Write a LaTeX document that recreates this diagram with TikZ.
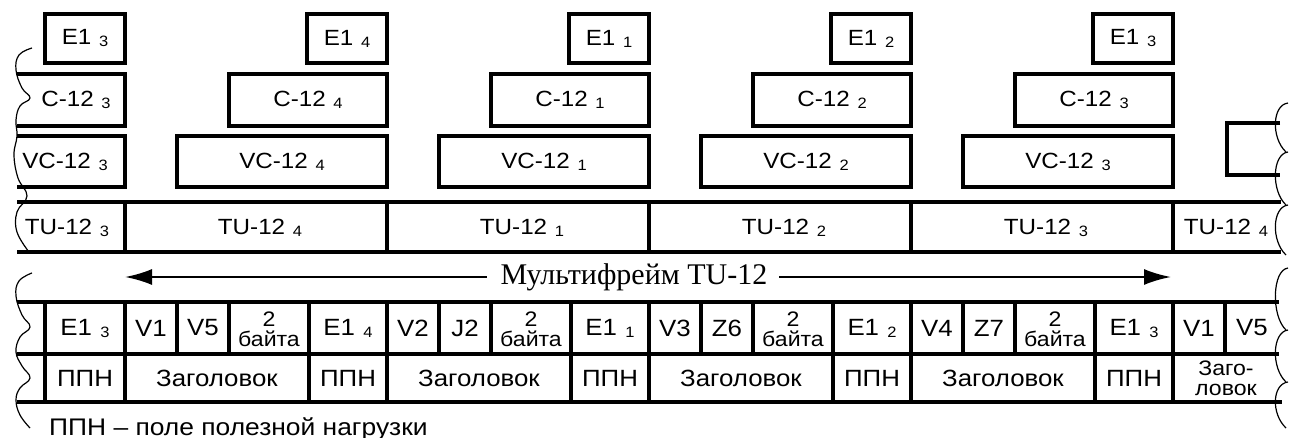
\documentclass[tikz,border=0pt]{standalone}
\usepackage{fontspec}
\setmainfont{Liberation Sans}[FakeStretch=1.1]
\newfontfamily\seriffont{Liberation Serif}
\usetikzlibrary{arrows.meta}
\newcommand{\ix}[1]{\hspace{0.35em}{\fontsize{15pt}{15pt}\selectfont\raisebox{-2pt}{#1}}}
\begin{document}
\begin{tikzpicture}[x=1pt,y=-1pt,
  box/.style={draw, line width=4pt, inner sep=0pt, font=\fontsize{22pt}{22pt}\selectfont},
  lbl/.style={inner sep=0pt, font=\fontsize{22pt}{22pt}\selectfont},
  cell/.style={inner sep=0pt, font=\fontsize{23.5pt}{23.5pt}\selectfont},
  small/.style={inner sep=0pt, align=center, font=\fontsize{21pt}{21pt}\selectfont},
  hl/.style={line width=3.8pt},
  vl/.style={line width=3.3pt},
  wavy/.style={line width=1.2pt},
  arr/.style={line width=2.4pt, -{Latex[length=27pt,width=16pt]}}
]
\useasboundingbox (0,0) rectangle (1289,438);

% ---- E1 row
\foreach \n/\x/\s in {e13a/85/3, e14/347/4, e11/609/1, e12/871/2, e13b/1133/3}
  \node[box, minimum width=80pt, minimum height=49pt] (\n) at (\x,38.5) {E1\ix{\s}};

% ---- C-12 row
\draw[line width=4pt] (17,74) -- (125,74) -- (125,126) -- (17,126);
\node[lbl] (c13a) at (76,100) {C-12\ix{3}};
\foreach \n/\x/\s in {c14/308/4, c11/570/1, c12/832/2, c13b/1094/3}
  \node[box, minimum width=158pt, minimum height=52pt] (\n) at (\x,100) {C-12\ix{\s}};

% ---- VC-12 row
\draw[line width=4pt] (17,136) -- (125,136) -- (125,187) -- (17,187);
\node[lbl] (vc13a) at (65,161.5) {VC-12\ix{3}};
\foreach \n/\x/\s in {vc14/282/4, vc11/544/1, vc12/806/2, vc13b/1068/3}
  \node[box, minimum width=210pt, minimum height=51pt] (\n) at (\x,161.5) {VC-12\ix{\s}};
\draw[line width=4pt] (1280,123) -- (1227,123) -- (1227,175) -- (1280,175);

% ---- TU-12 row
\draw[hl] (17,202) -- (1281,202);
\draw[hl] (17,252) -- (1281,252);
\foreach \x in {125,387,649,911,1173} \draw[vl] (\x,202) -- (\x,252);
\foreach \n/\x/\s in {tu3a/67/3, tu4a/260/4, tu1/522/1, tu2/784/2, tu3b/1046/3, tu4b/1226/4}
  \node[lbl] (\n) at (\x,228) {TU-12\ix{\s}};

% ---- multiframe arrow
\node[inner sep=0pt, font=\seriffont\fontsize{30pt}{30pt}\selectfont] (mf) at (634,277) {Мультифрейм TU-12};
\coordinate (aL) at (125,277);
\coordinate (aR) at (1171,277);
\draw[arr] ([xshift=-14pt]mf.west) -- (aL);
\draw[arr] ([xshift=12pt]mf.east) -- (aR);

% ---- lower table
\draw[hl] (17,302) -- (1279,302);
\draw[hl] (17,354) -- (1279,354);
\draw[hl] (17,402) -- (1282,402);
\foreach \x in {45,125,309,387,571,649,833,911,1095,1173} \draw[vl] (\x,302) -- (\x,402);
\foreach \x in {177,229,439,491,701,753,963,1015,1225} \draw[vl] (\x,302) -- (\x,354);

\foreach \n/\x/\s in {b13a/85/3, b14/348/4, b11/610/1, b12/872/2, b13b/1134/3}
  \node[cell] (\n) at (\x,328) {E1\ix{\s}};
\foreach \n/\x/\t in {v1a/151/V1, v5a/203/V5, v2/413/V2, j2/465/J2, v3/675/V3, z6/727/Z6, v4/937/V4, z7/989/Z7, v1b/1199/V1, v5b/1252/V5}
  \node[cell] (\n) at (\x,328) {\t};
\foreach \n/\x in {ba/269, bb/531, bc/793, bd/1055}
  \node[small] (\n) at (\x,329) {2\\[-1pt]байта};
\foreach \n/\x in {pa/85, pb/348, pc/610, pd/872, pe/1134}
  \node[cell] (\n) at (\x,378) {ППН};
\foreach \n/\x in {za/217, zb/479, zc/741, zd/1003}
  \node[cell] (\n) at (\x,378) {Заголовок};
\node[small] (ze) at (1226,378) {Заго-\\[-1pt]ловок};

% ---- legend
\node[inner sep=0pt, font=\fontsize{24pt}{24pt}\selectfont, anchor=base west] (legend) at (49,435) {ППН – поле полезной нагрузки};

% ---- break marks left
\draw[wavy] plot[smooth, tension=0.7] coordinates {(32,48) (19,55) (16,70) (22,88) (30,98) (20,106) (16,120) (17,136) (14,155) (18,178) (27,196) (17,212) (17,232) (29,252)};
\draw[wavy] plot[smooth, tension=0.7] coordinates {(32,273) (19,281) (16,296) (22,315) (30,327) (20,337) (16,352) (22,366) (30,378) (20,388) (16,400) (20,415) (30,428)};

% ---- break marks right
\foreach \a/\b in {103/152, 152/205, 205/255, 268/330, 330/382, 382/428}
  \draw[wavy] (1288,\a) .. controls (1272,\a+2) and (1271,\b-14) .. (1286,\b);
\end{tikzpicture}
\end{document}
